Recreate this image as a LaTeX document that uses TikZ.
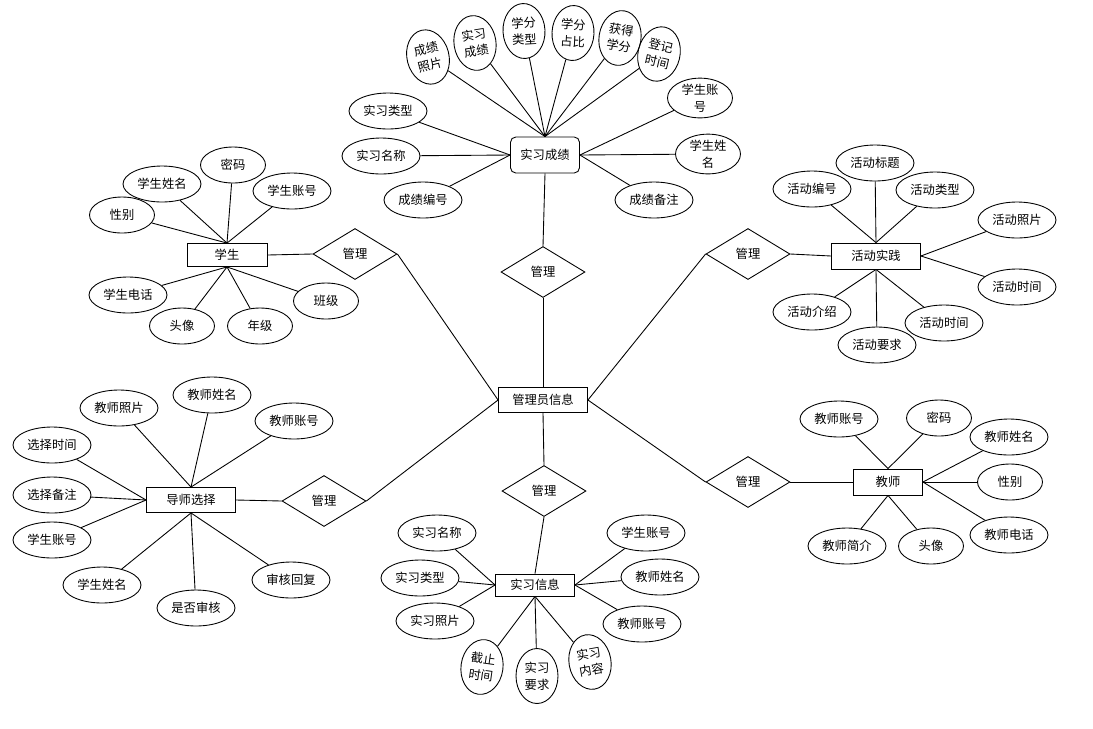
\documentclass[tikz,border=0pt]{standalone}
\usepackage{fontspec}
\newfontfamily\cjk{Noto Sans CJK SC}
\usetikzlibrary{shapes.geometric}

\begin{document}
\begin{tikzpicture}[
    x=0.02cm, y=-0.02cm,
    font=\cjk\fontsize{7}{9.5}\selectfont,
    link/.style={line width=0.5pt},
    entity/.style={draw, line width=0.5pt, inner sep=0pt},
    attr/.style={draw, ellipse, line width=0.5pt, inner sep=0pt,
                 minimum width=1.56cm, minimum height=0.72cm},
    small/.style={attr, minimum width=1.3cm},
    twoline/.style={attr, align=center, minimum width=1.3cm, minimum height=0.74cm},
    tall/.style={attr, align=center, minimum width=0.84cm, minimum height=1.1cm},
    rel/.style={draw, diamond, line width=0.5pt, inner sep=0pt,
                minimum width=1.68cm, minimum height=1.02cm},
]

    % keep the page as large as the reference
    \useasboundingbox (0,0) rectangle (1093,728);

    % =============================================================
    % Centre: the administrator
    % =============================================================
    \node[entity, minimum width=1.78cm, minimum height=0.5cm] (admin) at (543,400) {管理员信息};

    % =============================================================
    % Top: internship scores
    % =============================================================
    \node[entity, rounded corners=3pt, minimum width=1.38cm, minimum height=0.72cm]
        (score) at (545,155) {实习成绩};
    \node[rel] (scoreRel) at (543,272) {管理};

    \node[tall, rotate=14]  (sPhoto) at (428,57) {成绩\\照片};
    \node[tall, rotate=9]   (sGrade) at (475,43) {实习\\成绩};
    \node[tall, rotate=3]   (sType)  at (524,31) {学分\\类型};
    \node[tall, rotate=-3]  (sRatio) at (573,33) {学分\\占比};
    \node[tall, rotate=-9]  (sGain)  at (620,38) {获得\\学分};
    \node[tall, rotate=-13] (sTime)  at (659,54) {登记\\时间};
    \node[attr] (sKind) at (388,111) {实习类型};
    \node[attr] (sName) at (381,156) {实习名称};
    \node[attr] (sNo)   at (423,200) {成绩编号};
    \node[twoline] (sStuNo)   at (700,98)  {学生账\\号};
    \node[twoline] (sStuName) at (708,154) {学生姓\\名};
    \node[attr] (sNote) at (654,200) {成绩备注};

    \foreach \a in {sPhoto,sGrade,sType,sRatio,sGain,sTime}
        \draw[link] (\a) -- (score.north);
    \foreach \a in {sKind,sName,sNo}
        \draw[link] (\a) -- (score.west);
    \foreach \a in {sStuNo,sStuName,sNote}
        \draw[link] (\a) -- (score.east);
    \draw[link] (score.south) -- (scoreRel.north);
    \draw[link] (scoreRel.south) -- (admin.north);

    % =============================================================
    % Upper left: students
    % =============================================================
    \node[entity, minimum width=1.6cm, minimum height=0.46cm] (stu) at (227,255) {学生};
    \node[rel] (stuRel) at (355,254) {管理};

    \node[small] (stuSex)   at (122,215) {性别};
    \node[attr]  (stuName)  at (162,184) {学生姓名};
    \node[small] (stuPwd)   at (233,165) {密码};
    \node[attr]  (stuNo)    at (292,191) {学生账号};
    \node[attr]  (stuTel)   at (128,295) {学生电话};
    \node[small] (stuPic)   at (182,326) {头像};
    \node[small] (stuYear)  at (260,326) {年级};
    \node[small] (stuClass) at (326,301) {班级};

    \foreach \a in {stuSex,stuName,stuPwd,stuNo}
        \draw[link] (\a) -- (stu.north);
    \foreach \a in {stuTel,stuPic,stuYear,stuClass}
        \draw[link] (\a) -- (stu.south);
    \draw[link] (stu.east) -- (stuRel.west);
    \draw[link] (stuRel.east) -- (admin.west);

    % =============================================================
    % Upper right: activities
    % =============================================================
    \node[entity, minimum width=1.78cm, minimum height=0.52cm] (act) at (876,256) {活动实践};
    \node[rel] (actRel) at (748,254) {管理};

    \node[attr] (actNo)    at (812,189)  {活动编号};
    \node[attr] (actTitle) at (875,163)  {活动标题};
    \node[attr] (actType)  at (935,190)  {活动类型};
    \node[attr] (actPhoto) at (1017,220) {活动照片};
    \node[attr] (actTime)  at (1017,287) {活动时间};
    \node[attr] (actIntro) at (812,312)  {活动介绍};
    \node[attr] (actReq)   at (877,345)  {活动要求};
    \node[attr] (actDate)  at (944,323)  {活动时间};

    \foreach \a in {actNo,actTitle,actType}
        \draw[link] (\a) -- (act.north);
    \foreach \a in {actPhoto,actTime}
        \draw[link] (\a) -- (act.east);
    \foreach \a in {actIntro,actReq,actDate}
        \draw[link] (\a) -- (act.south);
    \draw[link] (actRel.east) -- (act.west);
    \draw[link] (admin.east) -- (actRel.west);

    % =============================================================
    % Lower right: teachers
    % =============================================================
    \node[entity, minimum width=1.38cm, minimum height=0.52cm] (tch) at (888,482) {教师};
    \node[rel] (tchRel) at (748,482) {管理};

    \node[attr]  (tchNo)    at (839,419)  {教师账号};
    \node[small] (tchPwd)   at (939,418)  {密码};
    \node[attr]  (tchName)  at (1009,437) {教师姓名};
    \node[small] (tchSex)   at (1010,482) {性别};
    \node[attr]  (tchTel)   at (1009,535) {教师电话};
    \node[attr]  (tchIntro) at (847,546)  {教师简介};
    \node[small] (tchPic)   at (931,546)  {头像};

    \foreach \a in {tchNo,tchPwd}
        \draw[link] (\a) -- (tch.north);
    \foreach \a in {tchName,tchSex,tchTel}
        \draw[link] (\a) -- (tch.east);
    \foreach \a in {tchIntro,tchPic}
        \draw[link] (\a) -- (tch.south);
    \draw[link] (tchRel.east) -- (tch.west);
    \draw[link] (admin.east) -- (tchRel.west);

    % =============================================================
    % Lower left: choice of tutor
    % =============================================================
    \node[entity, minimum width=1.78cm, minimum height=0.5cm] (tut) at (191,500) {导师选择};
    \node[rel] (tutRel) at (324,501) {管理};

    \node[attr] (tutPhoto)   at (119,408) {教师照片};
    \node[attr] (tutName)    at (212,395) {教师姓名};
    \node[attr] (tutNo)      at (294,421) {教师账号};
    \node[attr] (tutTime)    at (52,445)  {选择时间};
    \node[attr] (tutNote)    at (52,495)  {选择备注};
    \node[attr] (tutStuNo)   at (52,540)  {学生账号};
    \node[attr] (tutStuName) at (102,585) {学生姓名};
    \node[attr] (tutCheck)   at (196,608) {是否审核};
    \node[attr] (tutReply)   at (291,580) {审核回复};

    \foreach \a in {tutPhoto,tutName,tutNo}
        \draw[link] (\a) -- (tut.north);
    \foreach \a in {tutTime,tutNote,tutStuNo}
        \draw[link] (\a) -- (tut.west);
    \foreach \a in {tutStuName,tutCheck,tutReply}
        \draw[link] (\a) -- (tut.south);
    \draw[link] (tutRel.west) -- (tut.east);
    \draw[link] (admin.west) -- (tutRel.east);

    % =============================================================
    % Bottom: internship information
    % =============================================================
    \node[entity, minimum width=1.58cm, minimum height=0.44cm] (info) at (535,585) {实习信息};
    \node[rel] (infoRel) at (544,491) {管理};

    \node[attr] (iName)  at (437,533) {实习名称};
    \node[attr] (iType)  at (420,578) {实习类型};
    \node[attr] (iPhoto) at (435,621) {实习照片};
    \node[tall, rotate=-8] (iDue)  at (482,667) {截止\\时间};
    \node[tall]            (iReq)  at (537,676) {实习\\要求};
    \node[tall, rotate=10] (iCont) at (590,662) {实习\\内容};
    \node[attr] (iStuNo) at (646,533) {学生账号};
    \node[attr] (iTName) at (660,577) {教师姓名};
    \node[attr] (iTNo)   at (642,624) {教师账号};

    \foreach \a in {iName,iType,iPhoto}
        \draw[link] (\a) -- (info.west);
    \foreach \a in {iDue,iReq,iCont}
        \draw[link] (\a) -- (info.south);
    \foreach \a in {iStuNo,iTName,iTNo}
        \draw[link] (\a) -- (info.east);
    \draw[link] (admin.south) -- (infoRel.north);
    \draw[link] (infoRel.south) -- (info.north);

\end{tikzpicture}
\end{document}
